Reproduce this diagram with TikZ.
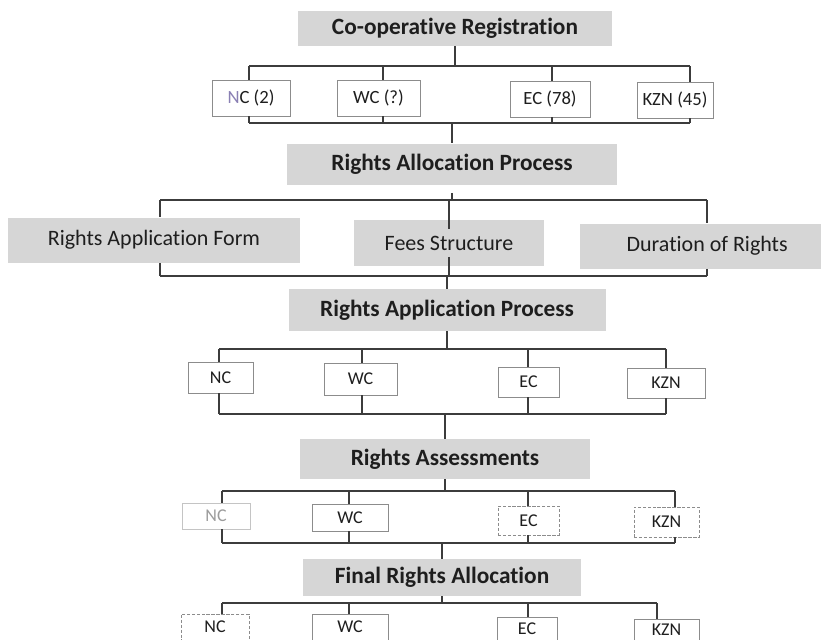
\documentclass[tikz,border=0pt]{standalone}
\usepackage{fontspec}
\setmainfont{Carlito}[Ligatures={NoCommon}]
\definecolor{hfill}{HTML}{D6D6D6}
\definecolor{txt}{HTML}{1E1E1E}
\definecolor{lin}{HTML}{3C3C3C}
\definecolor{bord}{HTML}{8C8C8C}
\definecolor{faint}{HTML}{C4C4C4}
\definecolor{faintt}{HTML}{9C9C9C}
\definecolor{purp}{HTML}{8A80B4}
\begin{document}
\begin{tikzpicture}[x=0.75pt,y=-0.75pt,
  sz/.style n args={2}{minimum width=#1*0.75pt, minimum height=#2*0.75pt},
  head/.style={fill=hfill, text=txt, inner sep=0pt, font=\fontsize{17.5}{19}\selectfont\bfseries},
  item/.style={fill=hfill, text=txt, inner sep=0pt, font=\fontsize{16.5}{18}\selectfont},
  small/.style={draw=bord, line width=0.6pt, fill=white, text=txt, inner sep=0pt, font=\fontsize{14}{16}\selectfont},
  tiny/.style={small, font=\fontsize{13.5}{16}\selectfont},
  dash box/.style={dash pattern=on 2.5pt off 1.2pt},
  conn/.style={draw=lin, line width=0.8pt}]
\useasboundingbox (0,0) rectangle (821,639);
\clip (0,0) rectangle (821,639);

% ---------------- headers and grey items
\node[head, sz={314}{35}] (h1) at (455,28) {Co-operative Registration};
\node[head, sz={330}{41}] (h2) at (452,164) {Rights Allocation Process};
\node[item, sz={292}{45}] (raf) at (154,240) {Rights Application Form};
\node[item, sz={190}{46}] (fees) at (449,243) {Fees Structure};
\node[item, sz={241}{45}] (dur) at (700.5,246) {\hspace*{10pt}Duration of Rights};
\node[head, sz={317}{42}] (h3) at (447,310) {Rights Application Process};
\node[head, sz={290}{40}] (h4) at (445,459) {Rights Assessments};
\node[head, sz={278}{37}] (h5) at (442,577.5) {Final Rights Allocation};

% ---------------- row 1
\node[small, sz={78}{36}] (n1) at (251,98) {\textcolor{purp}{N}C (2)};
\node[small, sz={83}{36}] (w1) at (378.5,98) {WC (?)};
\node[small, sz={80}{36}] (e1) at (550,99) {EC (78)};
\node[small, sz={76}{36}] (k1) at (675,100) {KZN (45)};

% ---------------- row 3
\node[tiny, sz={65}{31}] (n3) at (220.5,377.5) {NC};
\node[tiny, sz={73}{32}] (w3) at (360.5,379) {WC};
\node[tiny, sz={61}{30}] (e3) at (528.5,382) {EC};
\node[tiny, sz={78}{30}] (k3) at (666,383) {KZN};

% ---------------- row 4
\node[tiny, sz={68}{26}, draw=faint, text=faintt] (n4) at (216,516) {NC};
\node[tiny, sz={76}{27}] (w4) at (350,517.5) {WC};
\node[tiny, sz={61}{29}, dash box] (e4) at (528.5,520.5) {EC};
\node[tiny, sz={65}{30}, dash box] (k4) at (666.5,522) {KZN};

% ---------------- row 5
\node[tiny, sz={68}{26}, dash box] (n5) at (215,627) {NC};
\node[tiny, sz={76}{26}] (w5) at (350,627) {WC};
\node[tiny, sz={60}{24}] (e5) at (527,629) {EC};
\node[tiny, sz={65}{22}] (k5) at (666.5,630) {KZN};

% ---------------- bus coordinates
\foreach \nm/\x in {n1/249, w1/383, e1/552, k1/690}{
  \coordinate (t\nm) at (\x,66);
  \coordinate (u\nm) at (\x,123);}
\foreach \nm/\x in {n3/219, w3/362, e3/528, k3/666}{
  \coordinate (t\nm) at (\x,349);
  \coordinate (u\nm) at (\x,414);}
\foreach \nm/\x in {n4/222, w4/349, e4/528, k4/675}{
  \coordinate (t\nm) at (\x,491);
  \coordinate (u\nm) at (\x,543);}
\foreach \nm/\x in {n5/222, w5/349, e5/528, k5/657}{
  \coordinate (t\nm) at (\x,603);}
\coordinate (traf) at (160,200);
\coordinate (tdur) at (707,200);
\coordinate (uraf) at (160,276);
\coordinate (udur) at (707,276);

% ---------------- connectors
% level 1
\draw[conn] (h1.south) -- (h1.south |- tn1);
\draw[conn] (tn1) -- (tk1);
\draw[conn] (un1) -- (uk1);
\foreach \nm in {n1,w1,e1,k1}{
  \draw[conn] (t\nm) -- (t\nm |- \nm.north);
  \draw[conn] (u\nm |- \nm.south) -- (u\nm);}
\draw[conn] (h2.north |- un1) -- (h2.north);
% level 2
\draw[conn] ([yshift=-6pt]h2.south) -- (h2.south |- traf);
\draw[conn] (traf) -- (tdur);
\draw[conn] (uraf) -- (udur);
\draw[conn] (traf) -- (traf |- raf.north);
\draw[conn] (uraf |- raf.south) -- (uraf);
\draw[conn] (tdur) -- (tdur |- dur.north);
\draw[conn] (udur |- dur.south) -- (udur);
\draw[conn] (fees.north |- traf) -- ([yshift=-7pt]fees.north);
\draw[conn] ([yshift=7pt]fees.south) -- (fees.south |- uraf);
\draw[conn] (h3.north |- uraf) -- (h3.north);
% level 3
\draw[conn] (h3.south) -- (h3.south |- tn3);
\draw[conn] (tn3) -- (tk3);
\draw[conn] (un3) -- (uk3);
\foreach \nm in {n3,w3,e3,k3}{
  \draw[conn] (t\nm) -- (t\nm |- \nm.north);
  \draw[conn] (u\nm |- \nm.south) -- (u\nm);}
\draw[conn] (h4.north |- un3) -- (h4.north);
% level 4
\draw[conn] (h4.south) -- (h4.south |- tn4);
\draw[conn] (tn4) -- (tk4);
\draw[conn] (un4) -- (uk4);
\foreach \nm in {n4,w4,e4,k4}{
  \draw[conn] (t\nm) -- (t\nm |- \nm.north);
  \draw[conn] (u\nm |- \nm.south) -- (u\nm);}
\draw[conn] (h5.north |- un4) -- (h5.north);
% level 5
\draw[conn] (h5.south) -- (h5.south |- tn5);
\draw[conn] (tn5) -- (tk5);
\foreach \nm in {n5,w5,e5,k5}{
  \draw[conn] (t\nm) -- (t\nm |- \nm.north);}
\end{tikzpicture}
\end{document}
